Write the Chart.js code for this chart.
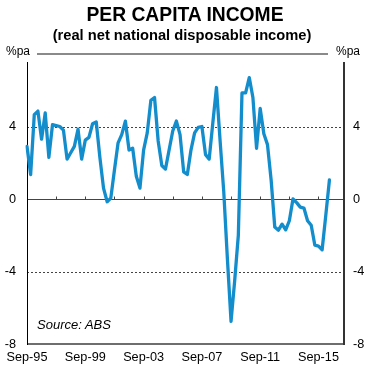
<!DOCTYPE html>
<html>
<head>
<meta charset="utf-8">
<script src="https://cdn.jsdelivr.net/npm/chart.js@4.4.1/dist/chart.umd.min.js"></script>
<style>
  html, body { margin: 0; padding: 0; background: #fff; }
  #wrap { position: relative; width: 378px; height: 375px; font-family: Arial, "Liberation Sans", sans-serif; color: #000; }
  #c { position: absolute; left: 0; top: 0; }
  .t { position: absolute; white-space: nowrap; line-height: 1; }
  #title { left: -4px; width: 378px; text-align: center; top: 5px; font-size: 19.3px; font-weight: bold; }
  #sub { left: -7px; width: 378px; text-align: center; top: 27.5px; font-size: 14.7px; font-weight: bold; }
  #unitL { left: 6px; top: 44.5px; font-size: 12px; }
  #unitR { left: 336px; top: 44.5px; font-size: 12px; }
  #src { left: 37px; top: 318px; font-size: 13px; font-style: italic; }
</style>
</head>
<body>
<div id="wrap">
  <canvas id="c" width="378" height="375"></canvas>
  <div class="t" id="title">PER CAPITA INCOME</div>
  <div class="t" id="sub">(real net national disposable income)</div>
  <div class="t" id="unitL">%pa</div>
  <div class="t" id="unitR">%pa</div>
  <div class="t" id="src">Source: ABS</div>
</div>
<script>
// Quarterly categories, Sep-95 to Jun-17 (axis extends beyond last observation)
const quarterMonths = ['Mar', 'Jun', 'Sep', 'Dec'];
const categories = [];
for (let q = 2, y = 1995; categories.length < 88; q++) {
  if (q === 4) { q = 0; y++; }
  categories.push(quarterMonths[q] + '-' + String(y % 100).padStart(2, '0'));
}

// Per capita real net national disposable income, %pa (Sep-95 .. Jun-16)
const incomeGrowth = [
  2.9, 1.35, 4.65, 4.85, 3.3, 4.75, 2.3, 4.1, 4.05, 4.0,
  3.8, 2.2, 2.55, 2.9, 3.85, 2.2, 3.25, 3.4, 4.15, 4.25,
  2.3, 0.6, -0.15, 0.05, 1.6, 3.1, 3.55, 4.3, 2.7, 2.8,
  1.25, 0.6, 2.7, 3.65, 5.45, 5.6, 3.2, 1.85, 1.65, 2.7,
  3.75, 4.3, 3.55, 1.5, 1.35, 2.7, 3.65, 3.95, 4.0, 2.45,
  2.2, 4.2, 6.15, 3.2, 0.4, -3.3, -6.75, -4.5, -2.0, 5.85,
  5.85, 6.7, 5.6, 2.8, 5.0, 3.6, 3.0, 1.05, -1.55, -1.72,
  -1.39, -1.7, -1.2, 0.0, -0.2, -0.45, -0.5, -1.2, -1.45, -2.55,
  -2.6, -2.8, -0.9, 1.05
];

const xTickLabels = ['Sep-95', 'Sep-99', 'Sep-03', 'Sep-07', 'Sep-11', 'Sep-15'];
const yTicks = [-8, -4, 0, 4, 8];
const yShownTicks = [-8, -4, 0, 4];

const FONT = { family: 'Arial, "Liberation Sans", sans-serif', size: 12.7 };

const decor = {
  id: 'decor',
  beforeDatasetsDraw(chart) {
    const { ctx, chartArea: a, scales } = chart;
    const y = scales.y, x = scales.x;
    ctx.save();
    // dotted gridlines at +/-4
    ctx.strokeStyle = '#444';
    ctx.lineWidth = 1;
    ctx.setLineDash([2, 2]);
    [4, -4].forEach(v => {
      const py = Math.round(y.getPixelForValue(v)) + 0.5;
      ctx.beginPath(); ctx.moveTo(a.left, py); ctx.lineTo(a.right, py); ctx.stroke();
    });
    ctx.setLineDash([]);
    // zero line with tick marks every 2 years
    const y0 = Math.round(y.getPixelForValue(0)) + 0.5;
    ctx.strokeStyle = '#444';
    ctx.beginPath(); ctx.moveTo(a.left, y0); ctx.lineTo(a.right, y0); ctx.stroke();
    for (let i = 8; i < categories.length; i += 8) {
      const px = Math.round(x.getPixelForValue(i)) + 0.5;
      ctx.beginPath(); ctx.moveTo(px, y0); ctx.lineTo(px, y0 - 3); ctx.stroke();
    }
    // bottom frame line at -8
    const yb = y.getPixelForValue(-8);
    ctx.strokeStyle = '#6e6e6e';
    ctx.lineWidth = 2;
    ctx.beginPath(); ctx.moveTo(a.left, yb); ctx.lineTo(a.right + 1, yb); ctx.stroke();
    // top frame line (gap for unit labels)
    const yt = y.getPixelForValue(8);
    ctx.strokeStyle = '#8a8a8a';
    ctx.beginPath(); ctx.moveTo(a.left + 10, yt); ctx.lineTo(a.right - 16, yt); ctx.stroke();
    // left axis
    ctx.strokeStyle = '#000';
    ctx.lineWidth = 1;
    const lx = Math.round(a.left) + 0.5;
    ctx.beginPath(); ctx.moveTo(lx, a.top + 8); ctx.lineTo(lx, yb + 1); ctx.stroke();
    // right axis
    ctx.strokeStyle = '#333';
    ctx.lineWidth = 2;
    ctx.beginPath(); ctx.moveTo(a.right, a.top + 8); ctx.lineTo(a.right, yb + 1); ctx.stroke();
    ctx.restore();
  }
};

const yAxis = (pos, pad) => ({
  type: 'linear',
  position: pos,
  min: -8, max: 8,
  afterBuildTicks: s => { s.ticks = yTicks.map(v => ({ value: v })); },
  afterFit: s => { s.width = pos === 'left' ? 27 : 34; },
  grid: { display: false, drawTicks: false },
  border: { display: false },
  ticks: {
    padding: pad,
    color: '#000',
    font: FONT,
    callback: v => yShownTicks.includes(v) ? String(v) : ''
  }
});

new Chart(document.getElementById('c'), {
  type: 'line',
  data: {
    labels: categories,
    datasets: [{
      data: incomeGrowth,
      borderColor: '#138dcc',
      borderWidth: 3.3,
      pointRadius: 0,
      tension: 0,
      fill: false,
      borderJoinStyle: 'round',
      borderCapStyle: 'round'
    }]
  },
  options: {
    responsive: false,
    animation: false,
    devicePixelRatio: 1,
    layout: { padding: { top: 54, left: 0, right: 0, bottom: 0 } },
    plugins: { legend: { display: false }, tooltip: { enabled: false }, title: { display: false } },
    scales: {
      x: {
        type: 'category',
        offset: false,
        afterFit: s => { s.height = 31; },
        grid: { display: false, drawTicks: false },
        border: { display: false },
        ticks: {
          autoSkip: false,
          maxRotation: 0,
          minRotation: 0,
          padding: 6,
          color: '#000',
          font: FONT,
          callback: (v, i) => xTickLabels.includes(categories[i]) ? categories[i] : ''
        }
      },
      y: yAxis('left', 11),
      y2: yAxis('right', 9)
    }
  },
  plugins: [decor]
});
</script>
</body>
</html>
